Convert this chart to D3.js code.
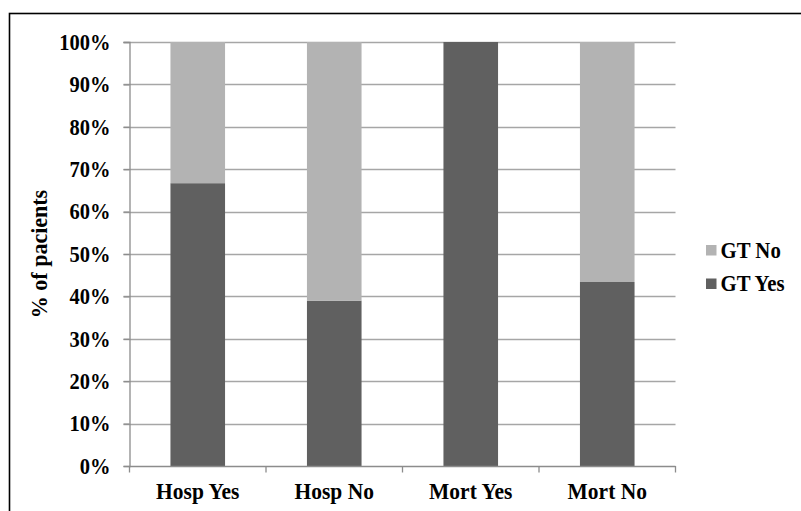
<!DOCTYPE html>
<html>
<head>
<meta charset="utf-8">
<script src="https://cdn.jsdelivr.net/npm/d3@7"></script>
<style>
  html, body { margin: 0; padding: 0; background: #fff; }
  svg { display: block; }
  svg text { font-family: "Times New Roman", "Liberation Serif", Tinos, serif !important; font-weight: bold; fill: #000; }
</style>
</head>
<body>
<svg id="chart" width="801" height="511"></svg>
<script>
// Share of patients with / without GT in each group (percent)
const categories = ["Hosp Yes", "Hosp No", "Mort Yes", "Mort No"];
const gtYes = [66.7, 39.0, 100, 43.4];
const gtNo = gtYes.map(v => 100 - v);
const seriesNames = ["GT Yes", "GT No"];
const yTicks = [0, 10, 20, 30, 40, 50, 60, 70, 80, 90, 100];

const colors = { "GT Yes": "#606060", "GT No": "#b3b3b3" };

const svg = d3.select("#chart");
const W = 801, H = 511;
const plot = { left: 129.5, right: 675.5, top: 42, bottom: 466 };
const sy = 1.12; // vertical stretch applied to the labels

svg.append("rect").attr("width", W).attr("height", H).attr("fill", "#fff");

// outer frame
svg.append("rect")
  .attr("x", 9.5).attr("y", 13.5)
  .attr("width", W + 20).attr("height", H + 20)
  .attr("fill", "none").attr("stroke", "#000").attr("stroke-width", 1.6);

const x = d3.scaleBand()
  .domain(categories)
  .range([plot.left, plot.right])
  .paddingInner(0.6)
  .paddingOuter(0.3);

const y = d3.scaleLinear().domain([0, 100]).range([plot.bottom, plot.top]);

// horizontal gridlines
svg.append("g")
  .selectAll("line")
  .data(yTicks.filter(d => d > 0))
  .join("line")
  .attr("x1", plot.left - 6).attr("x2", plot.right)
  .attr("y1", d => Math.round(y(d)) + 0.5).attr("y2", d => Math.round(y(d)) + 0.5)
  .attr("stroke", "#a6a6a6").attr("stroke-width", 1.3);

// stacked bars
const rows = categories.map((c, i) => ({ cat: c, "GT Yes": gtYes[i], "GT No": gtNo[i] }));
const stack = d3.stack().keys(seriesNames)(rows);

svg.append("g")
  .selectAll("g")
  .data(stack)
  .join("g")
  .attr("fill", d => colors[d.key])
  .selectAll("rect")
  .data(d => d)
  .join("rect")
  .attr("x", d => x(d.data.cat))
  .attr("width", x.bandwidth())
  .attr("y", d => y(d[1]))
  .attr("height", d => y(d[0]) - y(d[1]));

// y axis
const yAxis = d3.axisLeft(y)
  .tickValues(yTicks)
  .tickSize(6)
  .tickPadding(13)
  .tickFormat(d => d + "%");

const gy = svg.append("g")
  .attr("transform", `translate(${plot.left},0)`)
  .call(yAxis);
gy.select(".domain").attr("stroke", "#8c8c8c").attr("stroke-width", 1.3);
gy.selectAll(".tick line").attr("stroke", "#8c8c8c").attr("stroke-width", 1.3);
gy.selectAll(".tick text")
  .attr("font-size", 20.5)
  .attr("fill", "#000")
  .attr("dy", null)
  .attr("dominant-baseline", "central")
  .attr("transform", `scale(1,${sy})`)
  .attr("y", 0);

// x axis with ticks at category boundaries
const gx = svg.append("g")
  .attr("transform", `translate(0,${plot.bottom})`);
gx.append("line")
  .attr("x1", plot.left).attr("x2", plot.right)
  .attr("y1", 0.5).attr("y2", 0.5)
  .attr("stroke", "#8c8c8c").attr("stroke-width", 1.3);
const boundaries = [plot.left].concat(categories.map(c => x(c) + x.bandwidth() + x.step() * 0.3));
gx.selectAll("line.tk")
  .data(boundaries)
  .join("line")
  .attr("class", "tk")
  .attr("x1", d => d).attr("x2", d => d)
  .attr("y1", 0).attr("y2", 6.5)
  .attr("stroke", "#8c8c8c").attr("stroke-width", 1.3);
gx.selectAll("text")
  .data(categories)
  .join("text")
  .attr("transform", d => `translate(${x(d) + x.bandwidth() / 2},33) scale(1,${sy})`)
  .attr("text-anchor", "middle")
  .attr("font-size", 21.5)
  .text(d => d);

// y axis title
svg.append("text")
  .attr("transform", `translate(47,${(plot.top + plot.bottom) / 2}) rotate(-90) scale(1,1.05)`)
  .attr("text-anchor", "middle")
  .attr("font-size", 22)
  .text("% of pacients");

// legend
const legendItems = ["GT No", "GT Yes"];
const lg = svg.append("g");
legendItems.forEach((name, i) => {
  const yy = 245 + i * 33.5;
  lg.append("rect")
    .attr("x", 706).attr("y", yy)
    .attr("width", 10.5).attr("height", 10.5)
    .attr("fill", colors[name]);
  lg.append("text")
    .attr("transform", `translate(720.5,${yy + 12.7}) scale(1,${sy})`)
    .attr("font-size", 20.8)
    .text(name);
});
</script>
</body>
</html>
